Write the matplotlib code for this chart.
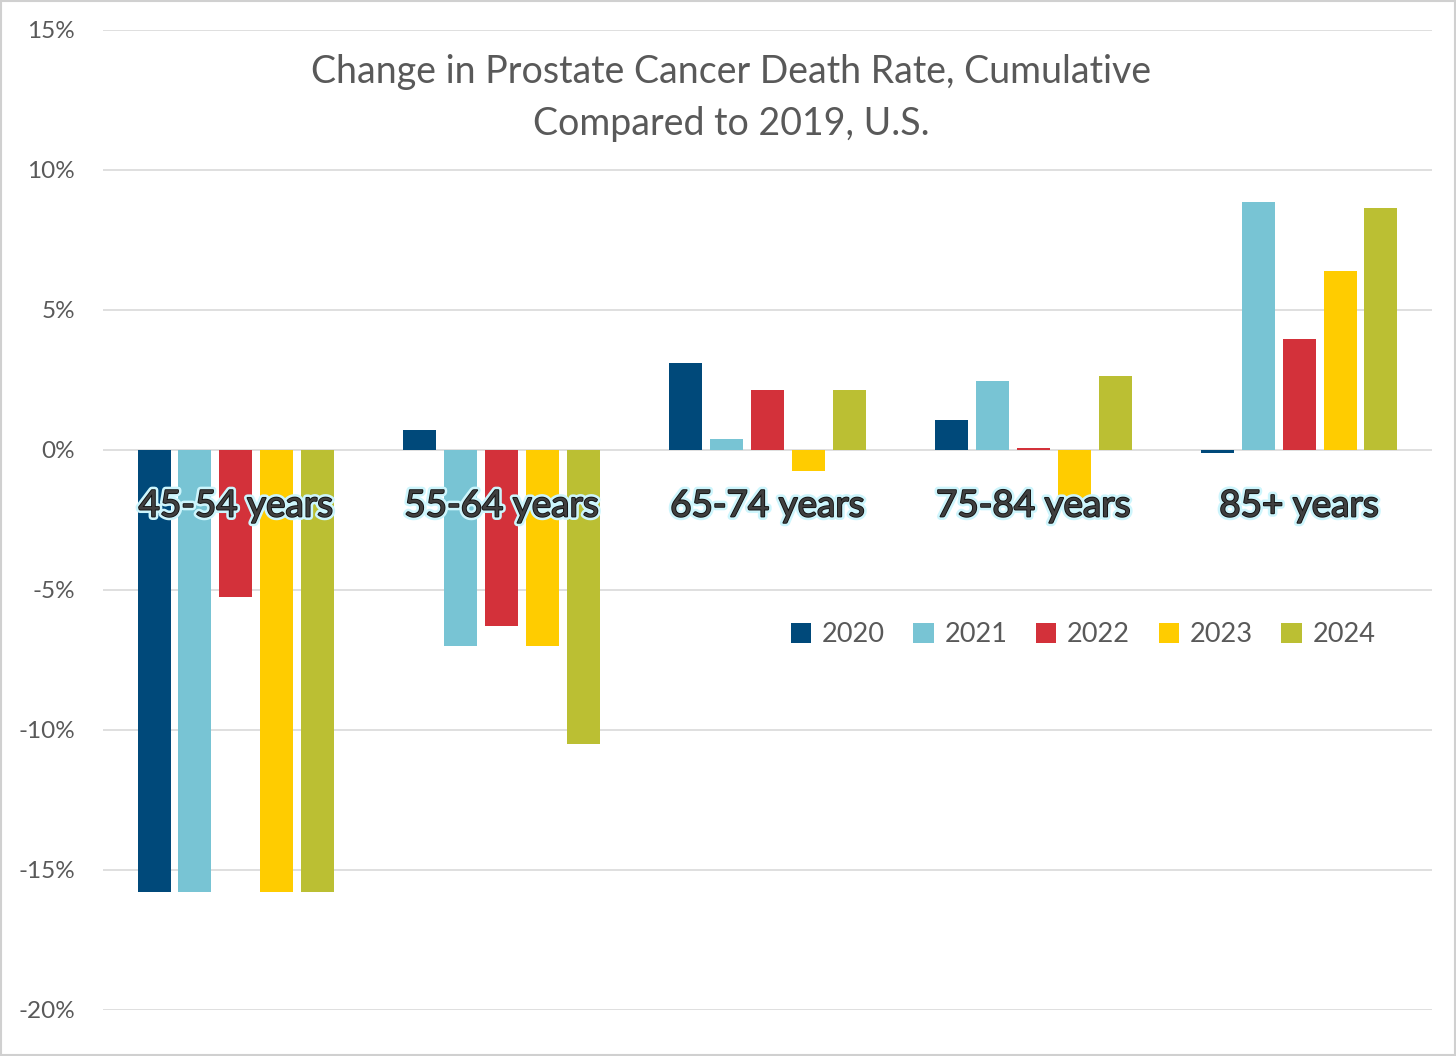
import numpy as np
import matplotlib.pyplot as plt
import matplotlib.patheffects as pe

plt.rcParams['font.family'] = ['Lato', 'DejaVu Sans']

# valors llegits del gràfic (canvi acumulat respecte 2019, %)
groups = ['45-54 years', '55-64 years', '65-74 years', '75-84 years', '85+ years']
years = ['2020', '2021', '2022', '2023', '2024']
v2020 = [-15.8, 0.7, 3.1, 1.07, -0.1]
v2021 = [-15.8, -7.0, 0.4, 2.45, 8.85]
v2022 = [-5.25, -6.3, 2.14, 0.07, 3.95]
v2023 = [-15.8, -7.0, -0.75, -1.9, 6.38]
v2024 = [-15.8, -10.5, 2.14, 2.66, 8.64]
colors = ['#00497a', '#78c4d4', '#d3313a', '#ffcc00', '#bbbf33']

series = [v2020, v2021, v2022, v2023, v2024]

fig = plt.figure(figsize=(14.56, 10.56), dpi=100)
ax = fig.add_axes([103/1456, 1-1010/1056, (1432-103)/1456, (1010-30)/1056])

x = np.arange(len(groups))
step = 0.154
w = 0.124
for k in range(len(series)):
  ax.bar(x+(k-2)*step, series[k], width=w, color=colors[k], label=years[k], zorder=3)

ax.set_xlim(-0.5, len(groups)-0.5)
ax.set_ylim(-20, 15)
ax.set_yticks(np.arange(-20, 16, 5))
ax.set_yticklabels([str(t)+'%' for t in range(-20, 16, 5)])
ax.yaxis.grid(True, color='#d9d9d9', linewidth=1.2, zorder=0)
ax.set_xticks([])
for s in ax.spines.values():
  s.set_visible(False)
ax.tick_params(axis='y', length=0, pad=20, labelsize=17.5, labelcolor='#595959')

#etiquetes de grup amb resplendor
glow = [pe.Stroke(linewidth=5, foreground='#cdf5fc'), pe.Stroke(linewidth=1.3, foreground='#111111'), pe.Normal()]
for i, g in enumerate(groups):
  ax.text(i, -2.0, g, ha='center', va='center', fontsize=26.5, color='#3f3f3f', zorder=5, path_effects=glow)

fig.text(0.502, 0.907, 'Change in Prostate Cancer Death Rate, Cumulative\nCompared to 2019, U.S.',
         ha='center', va='center', fontsize=27, color='#595959', linespacing=1.55)

ax.legend(loc='center', bbox_to_anchor=(0.7375, 0.3827), ncol=5, frameon=False, fontsize=19.5,
          handlelength=0.75, handleheight=0.75, handletextpad=0.4, columnspacing=1.05, labelcolor='#595959')

fig.patches.append(plt.Rectangle((0.001, 0.001), 0.998, 0.998, transform=fig.transFigure,
                                 fill=False, edgecolor='#d0d0d0', linewidth=1.5))
fig.savefig('out.png', dpi=100)
